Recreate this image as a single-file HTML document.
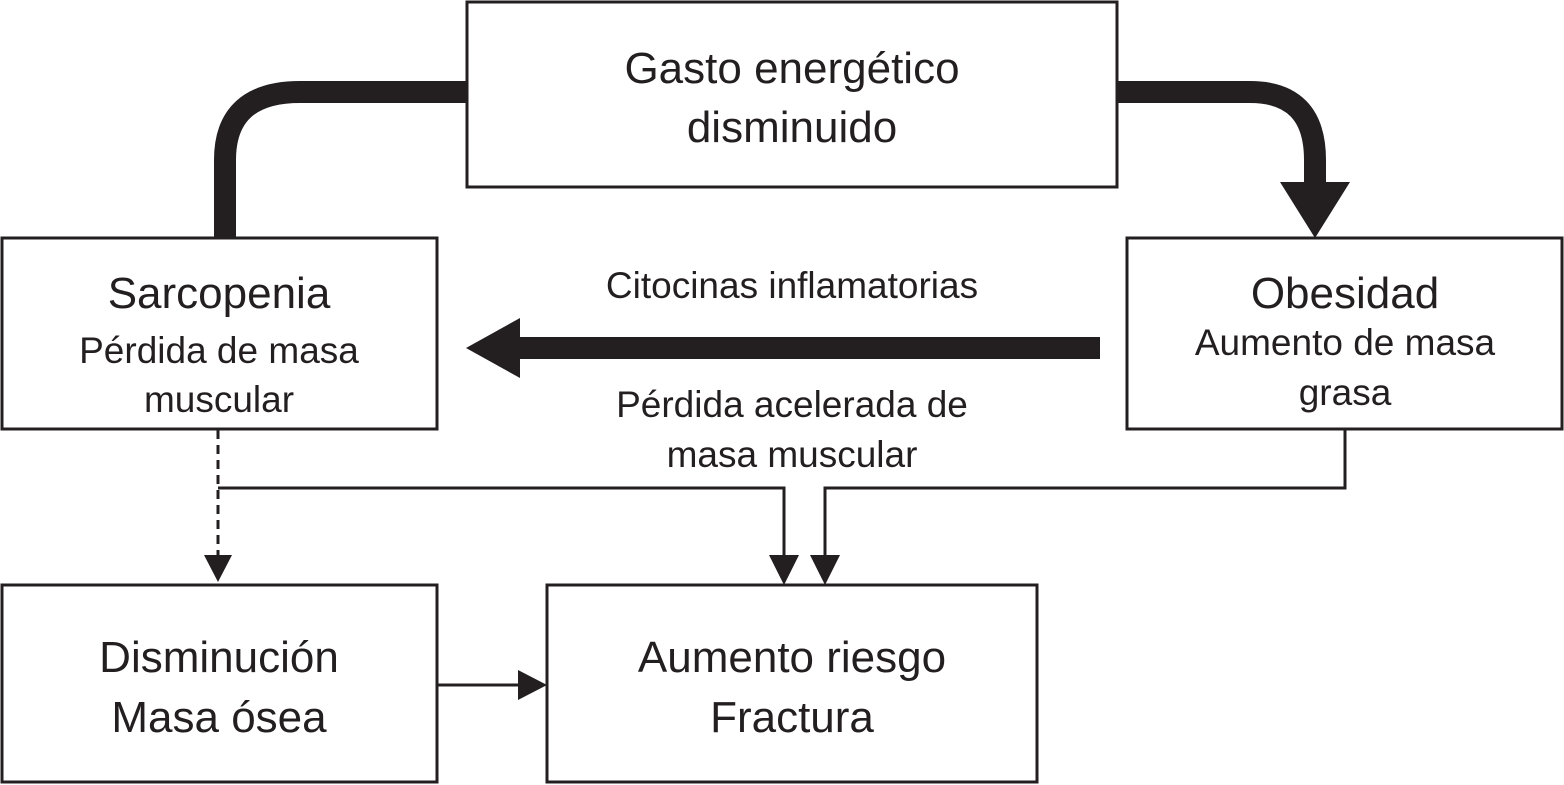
<!DOCTYPE html>
<html><head><meta charset="utf-8"><style>html,body{margin:0;padding:0;background:#fff}svg{display:block}</style></head>
<body>
<svg width="1564" height="785" viewBox="0 0 1564 785" xmlns="http://www.w3.org/2000/svg" font-family="Liberation Sans, Arial, sans-serif" fill="#231f20">
<g fill="none" stroke="#231f20" stroke-width="3">
<rect x="467" y="2" width="650" height="185"/>
<rect x="2" y="238" width="435" height="191"/>
<rect x="1127" y="238" width="435" height="191"/>
<rect x="2" y="585" width="435" height="197"/>
<rect x="547" y="585" width="490" height="197"/>
</g>
<g fill="none" stroke="#231f20" stroke-width="22">
<path d="M467 92 H300 Q225 92 225 160 V238"/>
<path d="M1117 92 H1250 Q1315 92 1315 160 V185"/>
<path d="M1100 348 H515"/>
</g>
<polygon points="1280,182 1350,182 1315,238" />
<polygon points="466,348 520,318 520,378" />
<g fill="none" stroke="#231f20" stroke-width="3">
<path d="M218 430 V558" stroke-dasharray="9,6"/>
<path d="M218 488 H784 V560"/>
<path d="M1345 429 V488 H825 V560"/>
<path d="M437 685 H520"/>
</g>
<polygon points="204,555 232,555 218,582"/>
<polygon points="769,555 799,555 784,585"/>
<polygon points="810,555 840,555 825,585"/>
<polygon points="518,670 547,685 518,700"/>
<g font-size="44" text-anchor="middle">
<text x="792" y="83">Gasto energético</text>
<text x="792" y="142">disminuido</text>
<text x="219" y="308">Sarcopenia</text>
<text x="1345" y="308">Obesidad</text>
<text x="219" y="672">Disminución</text>
<text x="219" y="732">Masa ósea</text>
<text x="792" y="672">Aumento riesgo</text>
<text x="792" y="732">Fractura</text>
</g>
<g font-size="37" text-anchor="middle">
<text x="219" y="363">Pérdida de masa</text>
<text x="219" y="412">muscular</text>
<text x="1345" y="355">Aumento de masa</text>
<text x="1345" y="405">grasa</text>
<text x="792" y="298">Citocinas inflamatorias</text>
<text x="792" y="417">Pérdida acelerada de</text>
<text x="792" y="467">masa muscular</text>
</g>
</svg>
</body></html>
